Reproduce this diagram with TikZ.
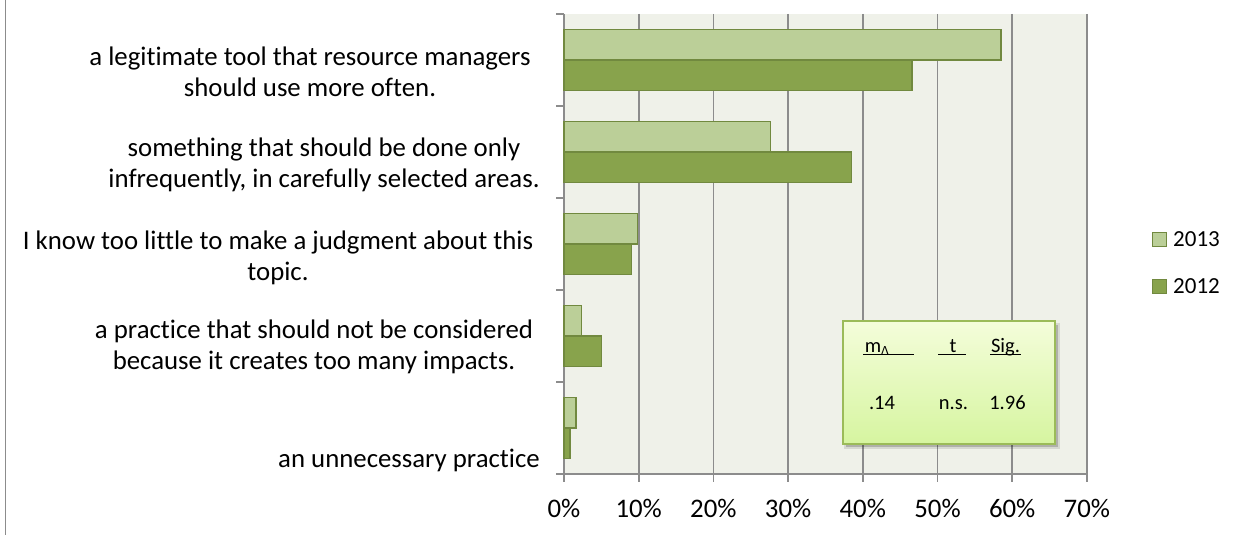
\documentclass[tikz,border=0pt]{standalone}
\usepackage{fontspec}
\setmainfont{Carlito}[Ligatures=NoCommon]
\usetikzlibrary{calc}
\definecolor{plotbg}{RGB}{239,241,233}
\definecolor{gridc}{RGB}{140,140,140}
\definecolor{lightbar}{RGB}{187,207,152}
\definecolor{darkbar}{RGB}{136,163,76}
\definecolor{baredge}{RGB}{113,137,63}
\definecolor{boxtop}{RGB}{244,253,218}
\definecolor{boxbot}{RGB}{214,245,160}
\definecolor{boxedge}{RGB}{155,187,89}
\tikzset{
  bar13/.style={fill=lightbar,draw=baredge,line width=1.3pt},
  bar12/.style={fill=darkbar,draw=baredge,line width=1.3pt},
  gridline/.style={draw=gridc,line width=1.8pt},
  catlabel/.style={align=center,font=\fontsize{26.8}{31}\selectfont,inner sep=0pt},
  ticklabel/.style={font=\fontsize{26.8}{31}\selectfont,inner sep=0pt},
  legtext/.style={font=\fontsize{23}{27}\selectfont,inner sep=0pt,anchor=west},
  legbox/.style={draw=baredge,line width=1.2pt,minimum size=14pt,inner sep=0pt},
  stattext/.style={font=\fontsize{20.5}{24}\selectfont,inner sep=0pt,anchor=base},
  uline/.style={line width=1.4pt}
}
\begin{document}
\begin{tikzpicture}[x=1pt,y=-1pt]
\useasboundingbox (0,0) rectangle (1243,535);
\fill[white] (0,0) rectangle (1243,535);
% outer border (left)
\draw[gridc,line width=1.7pt] (5.5,0) -- (5.5,535);
% plot area
\fill[plotbg] (564,14) rectangle (1087,474);
\foreach \i in {1,...,7}{
  \draw[gridline] ({564+74.7*\i},14) -- ({564+74.7*\i},482);
}
% category axis
\draw[gridline] (564,14) -- (564,482);
\foreach \k in {0,...,5}{
  \draw[gridline] (556,{14+92*\k}) -- (564,{14+92*\k});
}
% value axis
\draw[gridline] (564,474) -- (1087,474);
% bars
\foreach \k/\a/\b in {0/58.5/46.6, 1/27.6/38.5, 2/9.8/9.0, 3/2.3/5.0, 4/1.6/0.8}{
  \draw[bar13] (564,{14+92*\k+15.3}) rectangle ({564+7.47*\a},{14+92*\k+46});
  \draw[bar12] (564,{14+92*\k+46}) rectangle ({564+7.47*\b},{14+92*\k+76.7});
}
% category labels
\node[catlabel] (c1) at (310,72) {a legitimate tool that resource managers\\should use more often.};
\node[catlabel] (c2) at (324,165) {something that should be done only\\infrequently, in carefully selected areas.};
\node[catlabel] (c3) at (278,258) {I know too little to make a judgment about this\\topic.};
\node[catlabel] (c4) at (314,347) {a practice that should not be considered\\because it creates too many impacts.};
\node[catlabel] (c5) at (409,460) {an unnecessary practice};
% value labels
\foreach \i in {0,...,7}{
  \node[ticklabel] (v\i) at ({564+74.7*\i},508) {\pgfmathparse{int(10*\i)}\pgfmathresult\%};
}
% legend
\node[legbox,fill=lightbar] (l13) at (1159.5,239.5) {};
\node[legtext] (t13) at (1173,239.5) {2013};
\node[legbox,fill=darkbar] (l12) at (1159.5,286.5) {};
\node[legtext] (t12) at (1173,286.5) {2012};
% stats box
\fill[black,opacity=0.18] (846,325) rectangle (1058,447);
\fill[black,opacity=0.10] (844,323) rectangle (1060,449);
\shade[top color=boxtop,bottom color=boxbot] (843,321) rectangle (1055,444);
\draw[boxedge,line width=1.5pt] (843,321) rectangle (1055,444);
\node[stattext] (m) at (877,352.5) {m\raisebox{-0.35ex}{\fontsize{14}{16}\selectfont Δ}};
\draw[uline] (863,354.5) -- (914,354.5);
\node[stattext] (tt) at (953,352.5) {t};
\draw[uline] (938,354.5) -- (966,354.5);
\node[stattext] (sig) at (1005.5,352.5) {Sig.};
\draw[uline] (990,354.5) -- (1021,354.5);
\node[stattext] (v1) at (882,409) {.14};
\node[stattext] (v2) at (953.5,409) {n.s.};
\node[stattext] (v3) at (1007.5,409) {1.96};
\end{tikzpicture}
\end{document}
